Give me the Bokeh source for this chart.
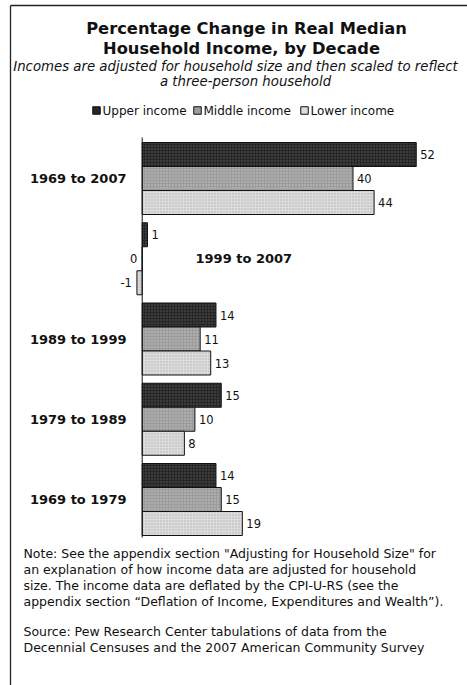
from bokeh.plotting import figure
from bokeh.models import Range1d
from bokeh.core.properties import value
from bokeh.embed import file_html
from bokeh.resources import INLINE

# ---- data ----
periods = ["1969 to 2007", "1999 to 2007", "1989 to 1999", "1979 to 1989", "1969 to 1979"]
series = ["Upper income", "Middle income", "Lower income"]
upper = [52, 1, 14, 15, 14]
middle = [40, 0, 11, 10, 15]
lower = [44, -1, 13, 8, 19]

title_lines = ["Percentage Change in Real Median", "Household Income, by Decade"]
subtitle_lines = ["Incomes are adjusted for household size and then scaled to reflect",
                  "a three-person household"]
note_lines = ["Note: See the appendix section \"Adjusting for Household Size\" for",
              "an explanation of how income data are adjusted for household",
              "size. The income data are deflated by the CPI-U-RS (see the",
              "appendix section \u201cDeflation of Income, Expenditures and Wealth\u201d)."]
source_lines = ["Source: Pew Research Center tabulations of data from the",
                "Decennial Censuses and the 2007 American Community Survey"]

# ---- layout / styling ----
W, H = 467, 685
ZERO_PX = 141.7      # x of the value axis
PX_PER_UNIT = 5.27   # pixels per percentage point
G0_PX = 178.0        # y of first group centre
PX_PER_GROUP = 80.25
FONT = "DejaVu Sans"

def X(px):
    return (px - ZERO_PX) / PX_PER_UNIT

def Y(py):
    return (py - G0_PX) / PX_PER_GROUP

fills = ["#262626", "#9c9c9c", "#dcdcdc"]
hatch_cols = ["#6a6a6a", "#d0d0d0", "#a8a8a8"]

p = figure(width=W, height=H, output_backend="svg", toolbar_location=None,
           x_range=Range1d(X(0), X(W)), y_range=Range1d(Y(H), Y(0)),
           min_border=0, min_border_left=0, min_border_right=0,
           min_border_top=0, min_border_bottom=0)
p.axis.visible = False
p.grid.visible = False
p.outline_line_color = None
p.background_fill_color = "white"
p.border_fill_color = "white"

# frame lines (decoration)
p.segment(x0=[X(10), X(10)], y0=[Y(5), Y(5)], x1=[X(10), X(467)], y1=[Y(685), Y(5)],
          line_color="#222222", line_width=1.3)

# bars
bar_h = 24 / PX_PER_GROUP
offsets = [-bar_h, 0.0, bar_h]
for vals, off, fc, hc in zip([upper, middle, lower], offsets, fills, hatch_cols):
    ys = [i + off for i in range(len(periods))]
    p.hbar(y=ys, left=0, right=vals, height=bar_h, fill_color=fc, line_color="#111111",
           line_width=1, hatch_pattern="dot", hatch_color=hc, hatch_scale=3, hatch_alpha=0.8)
    pos_x = [v for v in vals if v > 0]
    pos_y = [y for v, y in zip(vals, ys) if v > 0]
    neg_x = [min(v, 0) for v in vals if v <= 0]
    neg_y = [y for v, y in zip(vals, ys) if v <= 0]
    p.text(x=pos_x, y=pos_y, text=[str(v) for v in vals if v > 0], x_offset=4,
           text_font=value(FONT), text_font_size="11.5px", text_baseline="middle",
           text_align="left", text_color="#111111")
    if neg_x:
        p.text(x=neg_x, y=neg_y, text=[str(v) for v in vals if v <= 0], x_offset=-5,
               text_font=value(FONT), text_font_size="11.5px", text_baseline="middle",
               text_align="right", text_color="#111111")

# value axis
p.segment(x0=[0], y0=[Y(137)], x1=[0], y1=[Y(537)], line_color="#111111", line_width=1)

# category labels
for i, (lab, u, m, l) in enumerate(zip(periods, upper, middle, lower)):
    inside = max(u, m, l) < 5
    p.text(x=[X(195) if inside else X(126)], y=[i], text=[lab],
           text_font=value(FONT), text_font_size="13px", text_font_style="bold",
           text_align="left" if inside else "right", text_baseline="middle",
           text_color="#111111")

# title & subtitle
p.text(x=[X(246), X(241)], y=[Y(28), Y(48)], text=title_lines,
       text_font=value(FONT), text_font_size="16.3px", text_font_style="bold",
       text_align="center", text_baseline="middle", text_color="#111111")
p.text(x=[X(235), X(245)], y=[Y(66), Y(81)], text=subtitle_lines,
       text_font=value(FONT), text_font_size="13.3px", text_font_style="italic",
       text_align="center", text_baseline="middle", text_color="#111111")

# legend
leg_sq_px = [96, 197, 304]
p.scatter(x=[X(v) for v in leg_sq_px], y=[Y(110)] * 3, marker="square", size=7.5,
          fill_color=fills, line_color="#111111", line_width=1)
p.text(x=[X(v + 6) for v in leg_sq_px], y=[Y(110)] * 3, text=series,
       text_font=value(FONT), text_font_size="12px", text_align="left",
       text_baseline="middle", text_color="#111111")

# notes
p.text(x=[X(23)] * len(note_lines), y=[Y(553 + 16 * k) for k in range(len(note_lines))],
       text=note_lines, text_font=value(FONT), text_font_size="12.5px",
       text_align="left", text_baseline="middle", text_color="#111111")
p.text(x=[X(23)] * len(source_lines), y=[Y(631 + 16 * k) for k in range(len(source_lines))],
       text=source_lines, text_font=value(FONT), text_font_size="12.5px",
       text_align="left", text_baseline="middle", text_color="#111111")

open("out.html", "w").write(file_html(p, INLINE))
